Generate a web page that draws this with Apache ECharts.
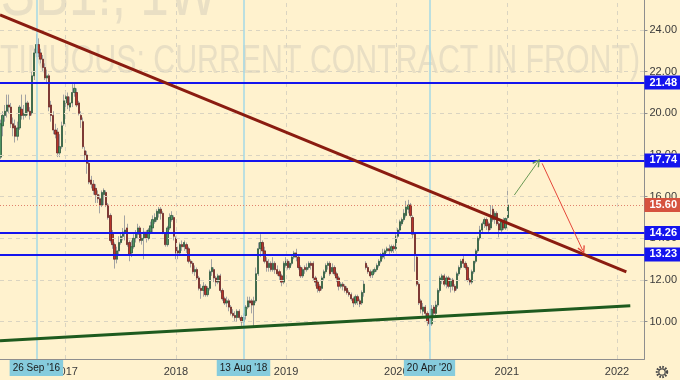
<!DOCTYPE html>
<html>
<head>
<meta charset="utf-8">
<script src="https://cdn.jsdelivr.net/npm/echarts@6/dist/echarts.min.js"></script>
<style>
html,body{margin:0;padding:0;background:#FFF2CE;}
#c{width:680px;height:380px;}
</style>
</head>
<body>
<div id="c"></div>
<script>
// ---- data (weekly Sugar No.11 continuous) ----
const firstWeek = '2016-05-30';   // date of the first weekly bar
const opens = [
17.9,19.4,19.9,20.1,20.4,20.3,19.5,19.4,18.9,19.3,
20.2,19.9,19.9,20.5,20.1,20.0,21.8,22.9,23.3,22.9,
22.6,22.2,21.7,21.8,20.4,19.9,19.2,19.1,18.1,18.4,
19.5,20.5,20.8,20.3,20.5,21.0,21.0,20.5,19.9,19.6,
18.2,18.0,17.6,16.8,16.6,16.4,16.1,15.9,15.6,16.1,
16.2,15.6,15.1,14.2,13.7,13.0,13.4,13.8,14.1,14.3,
14.5,13.8,13.3,13.6,14.0,14.2,14.5,13.9,14.0,14.3,
14.0,14.3,14.5,14.8,14.9,15.2,15.4,15.2,14.2,13.7,
14.5,14.9,15.0,14.0,13.4,13.3,13.7,13.6,13.7,13.5,
12.9,12.8,12.4,12.5,12.1,11.6,11.5,11.7,11.3,11.6,
12.4,12.5,12.1,11.9,12.2,11.5,11.1,10.9,11.0,10.7,
10.4,10.3,10.2,10.5,10.2,10.0,10.3,10.7,11.0,11.0,
10.8,11.0,12.3,13.5,13.8,13.4,12.9,12.6,12.8,12.5,
12.8,12.5,12.4,12.2,11.9,12.7,12.9,12.6,12.8,13.1,
13.3,13.1,12.6,12.2,12.6,12.5,12.6,12.8,12.8,12.1,
11.9,11.7,11.6,12.1,12.4,12.7,12.8,12.4,12.6,12.3,
12.1,11.7,11.8,11.7,11.6,11.4,11.3,11.1,10.9,11.2,
11.0,10.9,11.4,12.8,12.6,12.4,12.25,12.4,12.5,12.7,
12.9,13.1,13.2,13.4,13.5,13.4,13.6,13.5,14.1,14.4,
14.7,14.9,15.1,15.4,15.6,15.0,14.2,13.1,11.8,11.0,
10.5,10.7,10.4,10.2,9.9,10.7,10.4,10.8,11.5,12.0,
12.2,11.8,12.1,11.7,12.0,11.7,11.6,12.3,12.6,13.0,
12.8,12.6,12.0,11.9,12.4,12.9,13.4,14.0,14.4,14.7,
14.9,14.7,14.5,15.4,14.9,15.2,14.7,14.4,14.8,14.5,
15.0];
const highs = [
19.7,20.1,20.4,20.9,20.9,20.5,19.8,19.7,19.6,20.4,
20.9,20.4,20.9,20.6,20.3,22.0,23.1,23.8,23.6,23.1,
22.8,22.4,22.1,21.9,20.6,20.1,19.5,19.3,19.0,19.6,
20.9,21.1,21.0,20.8,21.4,21.5,21.2,20.6,20.1,19.8,
18.4,18.2,17.7,17.0,16.8,16.6,16.3,16.1,16.3,16.4,
16.3,15.7,15.2,14.4,13.8,13.6,14.1,14.3,14.5,15.1,
14.7,13.9,13.9,14.2,14.4,14.7,14.6,14.2,14.5,14.4,
14.5,14.8,15.1,15.2,15.4,15.5,15.5,15.3,14.3,14.6,
15.2,15.3,15.1,14.1,13.6,13.8,13.9,13.9,13.8,13.6,
13.0,12.9,12.7,12.6,12.2,11.8,11.9,11.8,11.7,12.5,
13.0,12.6,12.2,12.3,12.3,11.6,11.2,11.2,11.1,10.8,
10.6,10.5,10.6,10.6,10.3,10.4,10.8,11.2,11.2,11.1,
11.2,12.6,13.8,14.2,13.9,13.6,13.1,13.0,12.9,13.1,
12.9,12.7,12.5,12.3,12.9,13.1,13.0,12.9,13.2,13.4,
13.5,13.2,12.7,12.6,12.7,12.8,12.9,12.9,12.9,12.2,
12.0,11.8,12.2,12.5,12.8,12.9,12.9,12.8,12.7,12.4,
12.2,11.9,11.9,11.8,11.7,11.5,11.4,11.2,11.3,11.3,
11.1,11.5,12.0,12.9,12.7,12.5,12.5,12.6,12.8,13.0,
13.3,13.5,13.5,13.6,13.7,13.7,13.7,14.2,14.5,14.9,
15.0,15.4,15.8,15.85,15.7,15.1,14.3,13.2,11.9,11.1,
10.9,10.8,10.5,10.4,10.8,10.8,11.0,11.6,12.2,12.3,
12.3,12.2,12.2,12.1,12.1,11.8,12.4,12.7,13.0,13.2,
12.9,12.7,12.1,12.5,12.9,13.5,14.1,14.6,14.8,15.0,
15.0,14.8,15.6,15.6,15.3,15.3,14.8,14.9,15.0,15.0,
16.45];
const lows = [
17.8,18.9,19.6,19.8,20.0,19.3,18.9,18.6,18.7,19.2,
19.7,19.7,19.8,19.9,19.7,19.9,21.6,22.7,22.7,22.4,
22.0,21.6,21.4,20.1,19.6,19.0,18.8,17.9,17.9,18.3,
19.4,20.3,20.2,20.1,20.3,20.8,20.3,19.9,19.3,18.3,
17.7,17.1,16.6,16.4,16.1,15.7,15.7,15.2,15.5,15.6,
15.5,14.9,13.8,13.5,12.55,12.8,13.2,13.7,13.9,13.9,
13.6,12.9,13.1,13.5,13.8,14.0,13.8,13.7,13.0,13.8,
13.9,14.2,14.3,14.7,14.8,15.0,14.9,14.2,13.6,13.6,
14.4,14.8,13.9,13.0,13.0,13.2,13.4,13.4,13.3,12.8,
12.6,12.3,12.2,12.0,11.5,11.1,11.2,11.2,11.2,11.5,
12.2,11.9,11.7,11.8,11.4,11.0,10.8,10.7,10.5,10.3,
10.2,10.0,10.0,10.1,9.8,9.8,10.1,10.6,10.7,10.4,
9.76,10.9,12.2,13.1,13.2,12.8,12.4,12.4,12.4,12.4,
12.3,12.2,12.0,11.7,11.8,12.6,12.5,12.5,12.7,13.0,
12.9,12.5,12.1,12.1,12.3,12.4,12.5,12.5,12.0,11.7,
11.4,11.4,11.5,12.0,12.3,12.5,12.2,12.3,12.2,11.9,
11.5,11.6,11.5,11.4,11.3,11.2,11.0,10.7,10.8,10.8,
10.7,10.8,11.2,12.5,12.3,12.1,12.1,12.3,12.4,12.6,
12.8,13.0,13.0,13.3,13.2,13.3,13.3,13.4,14.0,14.3,
14.6,14.8,15.0,15.2,15.0,14.0,12.4,11.7,10.8,10.4,
10.3,10.2,9.8,9.05,9.8,10.2,10.3,10.7,11.4,11.8,
11.7,11.6,11.6,11.4,11.5,11.4,11.5,12.2,12.5,12.6,
12.5,11.9,11.75,11.8,12.3,12.8,13.3,13.9,14.3,14.5,
14.4,14.3,14.4,14.8,14.7,14.6,14.05,14.3,14.4,14.4,
14.9];
const closes = [
19.5,19.9,20.1,20.4,20.3,19.5,19.3,18.9,19.3,20.3,
19.9,20.0,20.5,20.1,19.9,21.8,22.9,23.3,22.9,22.6,
22.2,21.7,21.8,20.3,19.9,19.2,19.0,18.1,18.4,19.4,
20.6,20.8,20.4,20.5,21.0,21.2,20.4,20.0,19.7,18.4,
18.0,17.6,16.7,16.6,16.3,16.1,15.9,15.6,16.2,16.3,
15.6,15.0,13.9,13.7,13.0,13.4,13.8,14.1,14.3,14.4,
13.7,13.2,13.6,14.0,14.2,14.5,13.9,14.0,14.3,14.0,
14.4,14.6,14.9,15.0,15.3,15.4,15.2,14.3,13.7,14.5,
15.0,15.1,14.1,13.3,13.3,13.7,13.6,13.8,13.5,12.9,
12.8,12.4,12.5,12.1,11.6,11.5,11.7,11.3,11.6,12.4,
12.6,12.1,11.9,12.2,11.5,11.1,10.9,11.0,10.7,10.4,
10.3,10.2,10.5,10.2,10.0,10.2,10.7,11.0,10.9,10.8,
11.0,12.3,13.5,13.8,13.4,12.9,12.6,12.8,12.5,12.8,
12.5,12.3,12.2,11.9,12.8,12.9,12.6,12.8,13.1,13.3,
13.1,12.6,12.2,12.5,12.5,12.6,12.8,12.7,12.1,11.9,
11.6,11.5,12.1,12.4,12.7,12.8,12.3,12.6,12.3,12.1,
11.7,11.8,11.7,11.5,11.4,11.3,11.1,10.9,11.2,11.0,
10.85,11.4,11.8,12.6,12.4,12.2,12.4,12.5,12.7,12.9,
13.2,13.3,13.4,13.5,13.4,13.6,13.5,14.1,14.4,14.8,
14.9,15.2,15.5,15.6,15.1,14.2,13.2,11.8,10.9,10.6,
10.7,10.4,10.0,9.9,10.6,10.4,10.8,11.5,12.1,12.2,
11.8,12.1,11.7,12.0,11.7,11.5,12.3,12.6,12.9,12.8,
12.6,12.0,11.9,12.4,12.9,13.4,14.0,14.4,14.7,14.9,
14.6,14.4,15.0,14.9,15.2,14.7,14.4,14.8,14.5,14.95,
15.6];

const yearTicks = ['2017-01-01','2018-01-01','2019-01-01','2020-01-01','2021-01-01','2022-01-01'];
const priceTicks = [10, 12, 14, 16, 18, 20, 22, 24];
const levels = [21.48, 17.74, 14.26, 13.23];
const lastPrice = 15.60;
const sessionDates = ['2016-09-26', '2018-08-13', '2020-04-20'];
const sessionLabels = ["26 Sep '16", "13 Aug '18", "20 Apr '20"];
const resistanceLine = [['2016-05-28T12:00', 24.72], ['2022-02-01', 12.39]];
const supportLine = [['2016-05-28T12:00', 9.09], ['2022-02-14', 10.76]];
const upArrow = [['2021-01-26', 16.08], ['2021-04-13', 17.65]];
const downArrow = [['2021-04-28', 17.60], ['2021-09-09', 13.44]];
const xRange = ['2016-05-28T12:00', '2022-04-02'];
const yRange = [8.21, 25.44];

// ---- helpers ----
function ts(s) { return Date.parse(s.length === 10 ? s + 'T00:00:00Z' : s + 'Z'); }
const WEEK = 7 * 86400000;
const t0 = ts(firstWeek);
const candleData = opens.map((o, i) => [t0 + i * WEEK, o, closes[i], lows[i], highs[i]]);
const bodyData = opens.map((o, i) => [t0 + i * WEEK, o, closes[i], Math.min(o, closes[i]), Math.max(o, closes[i])]);
const chevron = 'path://M5,0 L10,9 L8.6,10 L5,3.2 L1.4,10 L0,9 Z';

function segment(pts, color, width, arrow) {
  return [
    { coord: [ts(pts[0][0]), pts[0][1]], symbol: 'none', lineStyle: { color: color, width: width, type: 'solid' }, label: { show: false } },
    { coord: [ts(pts[1][0]), pts[1][1]], symbol: arrow ? chevron : 'none', symbolSize: [8, 8] }
  ];
}
function rightLabel(text, bg) {
  return { show: true, position: 'end', distance: 0, formatter: text, backgroundColor: bg, color: '#ffffff',
           fontWeight: 'bold', fontSize: 11, padding: [2, 5, 1, 5] };
}

const chart = echarts.init(document.getElementById('c'));
const option = {
  backgroundColor: '#FFF2CE',
  animation: false,
  textStyle: { fontFamily: '"Liberation Sans", Arial, sans-serif' },
  grid: { left: 0, right: 35, top: 0, bottom: 21 },
  xAxis: {
    type: 'value', min: ts(xRange[0]), max: ts(xRange[1]),
    axisLine: { show: true, lineStyle: { color: '#8e8e8e' } },
    axisTick: { show: false },
    splitLine: { show: false },
    axisLabel: { customValues: yearTicks.map(ts), formatter: v => String(new Date(v).getUTCFullYear()),
                 color: '#3a3a3a', fontSize: 11, margin: 7 }
  },
  yAxis: {
    type: 'value', position: 'right', min: yRange[0], max: yRange[1], scale: true,
    axisLine: { show: true, lineStyle: { color: '#8e8e8e' } },
    axisTick: { show: true, customValues: priceTicks, length: 3, lineStyle: { color: '#8e8e8e' } },
    splitLine: { show: false },
    axisLabel: { customValues: priceTicks, formatter: v => v.toFixed(2), color: '#3a3a3a', fontSize: 11, margin: 5 }
  },
  graphic: [
    { type: 'text', x: 217, y: -3, scaleX: 0.8, silent: true, z: 0,
      style: { text: 'SB1!, 1W', fill: '#E9DFC4', font: '64px "Liberation Sans"', align: 'right', verticalAlign: 'middle' } },
    { type: 'text', x: 640, y: 62, scaleX: 0.758, silent: true, z: 0,
      style: { text: 'SUGAR NO. 11 (CONTINUOUS: CURRENT CONTRACT IN FRONT)', fill: '#E9DFC4', font: '40px "Liberation Sans"', align: 'right', verticalAlign: 'middle' } },
    { type: 'circle', shape: { cx: 662, cy: 372, r: 5 }, silent: true,
      style: { fill: 'none', stroke: '#4a4a4a', lineWidth: 2.4, lineDash: [1.6, 1.3] } },
    { type: 'circle', shape: { cx: 662, cy: 372, r: 3.2 }, silent: true,
      style: { fill: 'none', stroke: '#4a4a4a', lineWidth: 1.2 } }
  ],
  series: [
    { type: 'line', name: 'grid', data: [], z: 1, silent: true,
      markLine: { silent: true, symbol: ['none', 'none'], animation: false, label: { show: false },
        lineStyle: { color: '#DAD4C1', type: [4, 4], width: 1 },
        data: priceTicks.map(v => ({ yAxis: v })).concat(yearTicks.map(d => ({ xAxis: ts(d) }))) } },
    { type: 'line', name: 'sessions', data: [], z: 1, silent: true,
      markLine: { silent: true, symbol: ['none', 'none'], animation: false,
        lineStyle: { color: '#A4D9E6', width: 1.5, type: 'solid' },
        label: { show: true, position: 'start', distance: 1, backgroundColor: '#86CCDD', color: '#1a1a1a',
                 fontSize: 10, padding: [3, 3, 3, 3], formatter: p => p.name },
        data: sessionDates.map((d, i) => ({ xAxis: ts(d), name: sessionLabels[i] })) } },
    { type: 'candlestick', name: 'wicks', data: candleData, encode: { x: 0, y: [1, 2, 3, 4] },
      barWidth: 1.8, z: 2, silent: true,
      itemStyle: { color: 'transparent', color0: 'transparent', borderColor: '#a3a3a3', borderColor0: '#a3a3a3', borderWidth: 1 } },
    { type: 'candlestick', name: 'bodies', data: bodyData, encode: { x: 0, y: [1, 2, 3, 4] },
      barWidth: 1.8, z: 3, silent: true,
      itemStyle: { color: '#4F9463', color0: '#B7352B', borderColor: '#1F4B2B', borderColor0: '#5E1A14', borderWidth: 0.6 } },
    { type: 'line', name: 'drawings', data: [], z: 5, silent: true,
      markLine: { silent: true, symbol: ['none', 'none'], animation: false,
        data: levels.map(v => ({ yAxis: v, lineStyle: { color: '#1414EE', width: 2, type: 'solid' }, label: rightLabel(v.toFixed(2), '#1414EE') }))
          .concat([{ yAxis: lastPrice, lineStyle: { color: '#E0826C', width: 1, type: [1, 2] }, label: rightLabel(lastPrice.toFixed(2), '#D6533F') }])
          .concat([
            segment(resistanceLine, '#8A1C10', 3, false),
            segment(supportLine, '#1E5A1E', 3, false),
            segment(upArrow, '#6A9A55', 1, true),
            segment(downArrow, '#E5473A', 1, true)
          ]) } }
  ]
};
chart.setOption(option);
</script>
</body>
</html>
